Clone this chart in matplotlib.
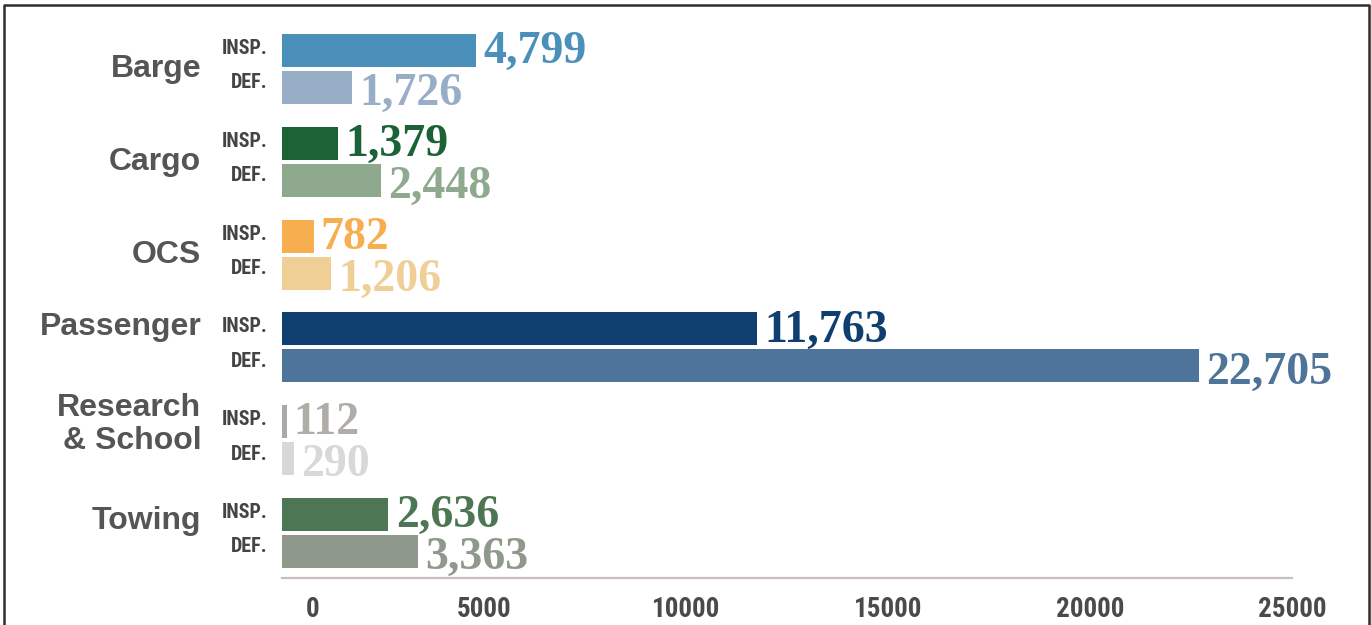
import numpy as np
import matplotlib.pyplot as plt
from matplotlib import font_manager
from matplotlib.lines import Line2D
import matplotlib.transforms as mtransforms

# data
categories = ['Barge', 'Cargo', 'OCS', 'Passenger', 'Research\n& School', 'Towing']
inspections = [4799, 1379, 782, 11763, 112, 2636]
deficiencies = [1726, 2448, 1206, 22705, 290, 3363]
insp_colors = ['#4a90bb', '#1b6237', '#f6ae4f', '#0f3f6e', '#a9a9a9', '#4d7654']
def_colors = ['#98aec7', '#8fa98e', '#efcf96', '#4f7499', '#d8d8d8', '#8e998c']
insp_text_colors = ['#4a90bb', '#1b6237', '#f6ae4f', '#0f3f6e', '#b0aca8', '#4d7654']
def_text_colors = ['#98aec7', '#8fa98e', '#efcf96', '#4f7499', '#d8d8d8', '#8e998c']
xticks = [0, 5000, 10000, 15000, 20000, 25000]

# small vertical nudges for the category names (in group units)
label_nudge = [0.0, 0.0, 0.0, -0.22, -0.17, -0.13]

# pick a condensed sans if one is around, else plain Liberation Sans a bit smaller
installed = {f.name for f in font_manager.fontManager.ttflist}
narrow_name = next((n for n in ['Liberation Sans Narrow', 'Roboto Condensed',
                                'Open Sans Condensed', 'Noto Sans Condensed',
                                'DejaVu Sans Condensed'] if n in installed), None)
if narrow_name:
    narrow = [narrow_name, 'DejaVu Sans']
    tag_size, tick_size = 14.5, 19.5
else:
    narrow = ['Liberation Sans', 'DejaVu Sans']
    tag_size, tick_size = 11, 16
sans = ['Liberation Sans', 'DejaVu Sans']
serif = ['Liberation Serif', 'DejaVu Serif']

fig = plt.figure(figsize=(13.71, 6.25), dpi=100)
ax = fig.add_axes([282 / 1371, 1 - 578 / 625, 1010 / 1371, 558 / 625])

y = np.arange(len(categories))
off = 0.2
h = 0.355
ax.barh(y - off, inspections, height=h, color=insp_colors)
ax.barh(y + off, deficiencies, height=h, color=def_colors)

ax.set_xlim(0, 25000)
ax.set_ylim(5.485, -0.528)

# value labels
for i in range(len(categories)):
    ax.text(inspections[i] + 180, y[i] - off + 0.02, f'{inspections[i]:,}',
            color=insp_text_colors[i], family=serif, weight='bold', fontsize=33,
            va='center', ha='left', clip_on=False)
    ax.text(deficiencies[i] + 180, y[i] + off + 0.07, f'{deficiencies[i]:,}',
            color=def_text_colors[i], family=serif, weight='bold', fontsize=33,
            va='center', ha='left', clip_on=False)

# category names and INSP./DEF. tags
ytr = ax.get_yaxis_transform()
for i, cat in enumerate(categories):
    ax.text(-0.080, y[i] + label_nudge[i], cat, transform=ytr, ha='right', va='center',
            family=sans, weight='bold', fontsize=23, color='#555555',
            linespacing=1.12, clip_on=False)
    ax.text(-0.014, y[i] - off - 0.02, 'INSP.', transform=ytr, ha='right', va='center',
            family=narrow, weight='bold', fontsize=tag_size, color='#444444', clip_on=False)
    ax.text(-0.014, y[i] + off - 0.05, 'DEF.', transform=ytr, ha='right', va='center',
            family=narrow, weight='bold', fontsize=tag_size, color='#444444', clip_on=False)

# axes styling
for s in ['top', 'right', 'left']:
    ax.spines[s].set_visible(False)
ax.spines['bottom'].set_color('#c9bebe')
ax.spines['bottom'].set_linewidth(1.6)
ax.set_yticks([])
ax.set_xticks(xticks)
ax.set_xticklabels([str(t) for t in xticks])
ax.tick_params(axis='x', length=0, pad=13, labelsize=tick_size, labelcolor='#4a4a4a')
for lab in ax.get_xticklabels():
    lab.set_family(narrow)
    lab.set_weight('bold')
# the "0" label sits a little right of the axis origin in the original
zero = ax.get_xticklabels()[0]
zero.set_transform(zero.get_transform() +
                   mtransforms.ScaledTranslation(31 / 100, 0, fig.dpi_scale_trans))

# frame around the figure (open at the bottom)
fx0, fx1, fy1 = 4 / 1371, 1368.5 / 1371, 1 - 5 / 625
fig.add_artist(Line2D([fx0, fx0, fx1, fx1], [0, fy1, fy1, 0], color='#2e2e2e',
                      linewidth=1.8, transform=fig.transFigure))

fig.savefig('out.png', dpi=100, facecolor='white')
